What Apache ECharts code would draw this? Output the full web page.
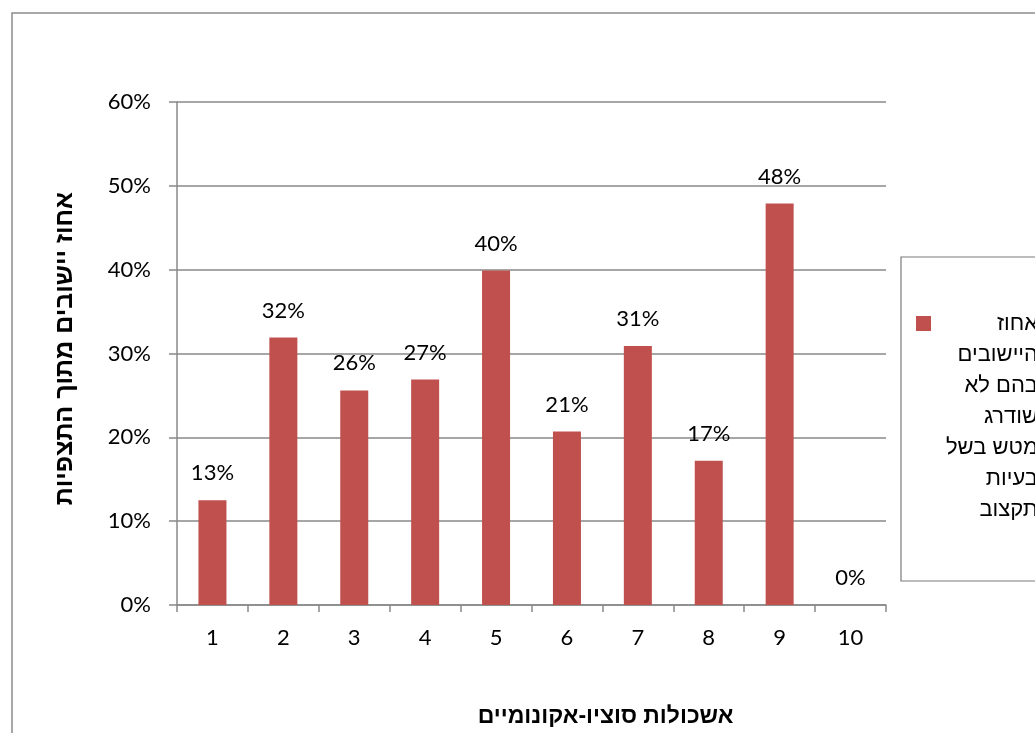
<!DOCTYPE html>
<html lang="he">
<head>
<meta charset="utf-8">
<title>אחוז יישובים מתוך התצפיות</title>
<script src="https://cdn.jsdelivr.net/npm/echarts@6/dist/echarts.min.js"></script>
<style>
  html, body { margin: 0; padding: 0; background: #ffffff; }
  #chart { width: 1035px; height: 733px; }
</style>
</head>
<body>
<div id="chart"></div>
<script>
// Socio-economic clusters (1 = lowest, 10 = highest)
const clusters = ['1', '2', '3', '4', '5', '6', '7', '8', '9', '10'];
// Share of localities (percent) per cluster
const shares = [12.5, 31.9, 25.6, 26.9, 39.9, 20.7, 30.9, 17.2, 47.9, 0];
// Value axis range and step (percent)
const yMin = 0;
const yMax = 60;
const yStep = 10;
// Series name, broken into the lines shown in the legend box
const legendLines = ['אחוז', 'היישובים', 'בהם לא', 'שודרג', 'מטש בשל', 'בעיות', 'תקצוב'];
const seriesName = legendLines.join(' ');
const xTitle = 'אשכולות סוציו-אקונומיים';
const yTitle = 'אחוז יישובים מתוך התצפיות';

const numFont = 'Lato, "Open Sans", sans-serif';
const hebFont = '"Liberation Sans", "DejaVu Sans", sans-serif';
const barColor = '#C0504D';
const lineGray = '#898989';

const chart = echarts.init(document.getElementById('chart'), null, { renderer: 'canvas' });

const option = {
  backgroundColor: '#ffffff',
  animation: false,
  grid: { left: 177, right: 149, top: 102, bottom: 127, containLabel: false },
  graphic: [
    { // outer chart frame (runs past the right and bottom edges)
      type: 'rect', silent: true, z: -10,
      shape: { x: 12, y: 13, width: 1300, height: 1000 },
      style: { fill: 'none', stroke: '#8c8c8c', lineWidth: 1.5 }
    },
    { // legend frame
      type: 'rect', silent: true, z: -10,
      shape: { x: 901, y: 257, width: 400, height: 324 },
      style: { fill: 'none', stroke: '#7a7a7a', lineWidth: 1.2 }
    }
  ],
  legend: {
    data: [seriesName],
    left: 916,
    top: 316 - 194,
    padding: 0,
    itemWidth: 15,
    itemHeight: 15,
    icon: 'rect',
    selectedMode: false,
    formatter: () => legendLines.map(l => '{r|' + l + '}').join('\n'),
    textStyle: {
      width: 102,
      padding: [186, 0, 0, 0],
      fontFamily: hebFont,
      fontSize: 22,
      lineHeight: 31,
      color: '#000000',
      rich: {
        r: { align: 'right', fontFamily: hebFont, fontSize: 22, lineHeight: 31, color: '#000000' }
      }
    }
  },
  xAxis: {
    type: 'category',
    data: clusters,
    boundaryGap: true,
    name: xTitle,
    nameLocation: 'middle',
    nameGap: 100,
    nameTextStyle: {
      fontFamily: hebFont, fontSize: 23, fontWeight: 'bold', color: '#000000',
      padding: [0, 0, 0, 148]
    },
    axisLine: { show: true, lineStyle: { color: lineGray, width: 1.5 } },
    axisTick: { show: true, alignWithLabel: false, length: 7, lineStyle: { color: lineGray, width: 1.5 } },
    axisLabel: { margin: 22, fontFamily: numFont, fontSize: 22, color: '#000000' },
    splitLine: { show: false }
  },
  yAxis: {
    type: 'value',
    min: yMin,
    max: yMax,
    interval: yStep,
    name: yTitle,
    nameLocation: 'middle',
    nameRotate: 90,
    nameGap: 99,
    nameMoveOverlap: false,
    nameTextStyle: {
      fontFamily: hebFont, fontSize: 25, fontWeight: 'bold', color: '#000000',
      padding: [0, 0, 0, 10]
    },
    axisLine: { show: true, lineStyle: { color: lineGray, width: 1.5 } },
    axisTick: { show: true, inside: false, length: 8, lineStyle: { color: lineGray, width: 1.5 } },
    axisLabel: { margin: 26, fontFamily: numFont, fontSize: 22, color: '#000000', formatter: '{value}%' },
    splitLine: { show: true, lineStyle: { color: lineGray, width: 1.5 } }
  },
  series: [
    {
      name: seriesName,
      type: 'bar',
      data: shares,
      barWidth: '39.5%',
      itemStyle: { color: barColor },
      label: {
        show: true,
        position: 'top',
        distance: 16,
        fontFamily: numFont,
        fontSize: 22,
        color: '#000000',
        formatter: p => Math.round(p.value) + '%'
      }
    }
  ]
};

chart.setOption(option);
</script>
</body>
</html>
